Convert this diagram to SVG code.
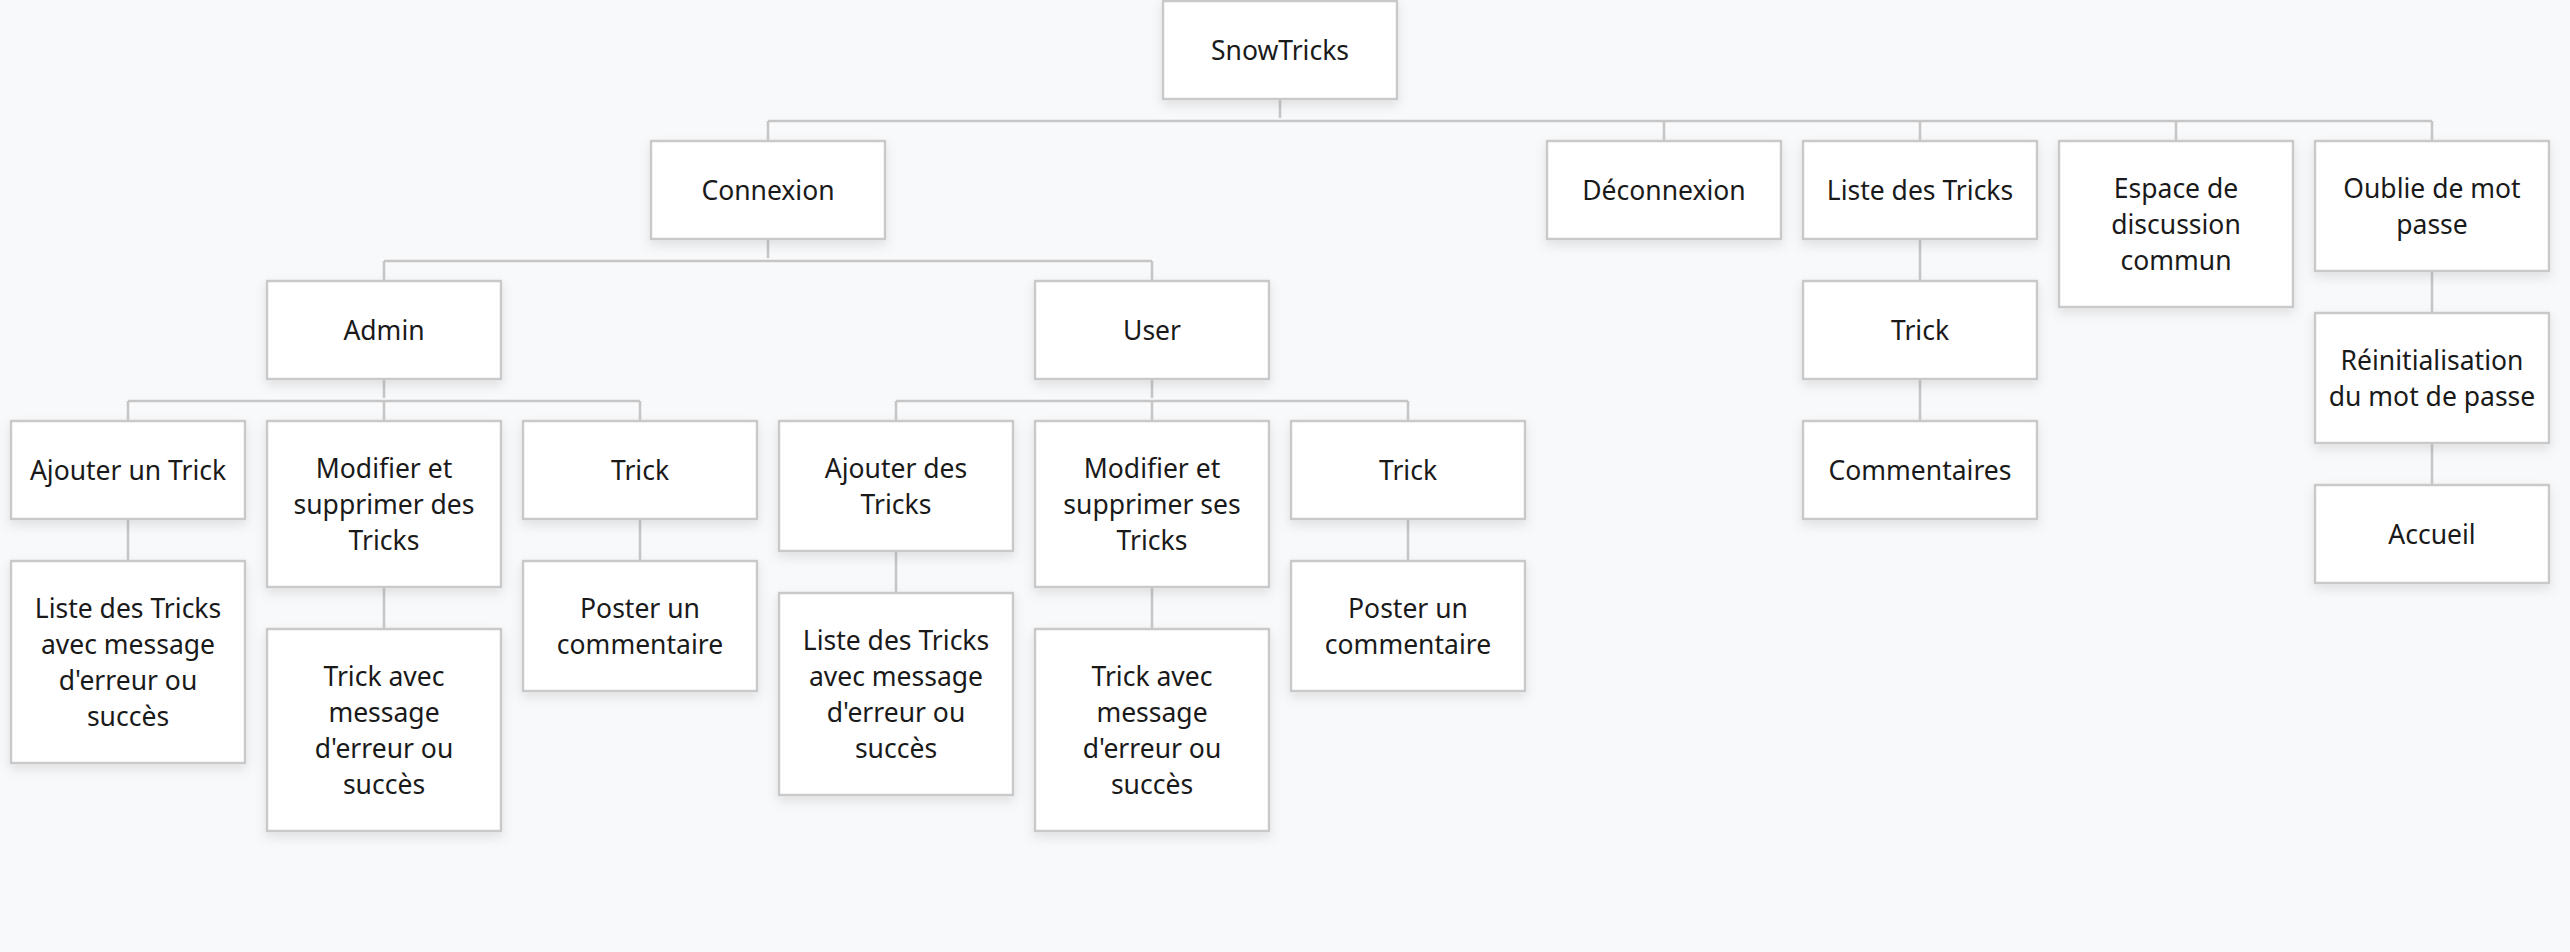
<svg xmlns="http://www.w3.org/2000/svg" width="2570" height="952" viewBox="0 0 2570 952">
<style>
.bg{fill:#f8f9fa}
.box{fill:#ffffff;stroke:#c9c9c9;stroke-width:2.5;filter:url(#sh)}
.lbl{font-family:"Noto Sans","Open Sans","Liberation Sans",sans-serif;font-size:26.5px;fill:#1a1a1a;text-anchor:middle}
.edges path{fill:none;stroke:#c6c6c6;stroke-width:2.5}
</style>
<defs>
<filter id="sh" x="-20%" y="-20%" width="140%" height="150%">
<feDropShadow dx="0" dy="5" stdDeviation="6" flood-color="#000" flood-opacity="0.10"/>
</filter>
</defs>
<rect class="bg" x="0" y="0" width="2570" height="952"/>
<g class="edges" id="connectors">
<path d="M1280 99V118M768 121H2432M768 121V141M1664 121V141M1920 121V141M2176 121V141M2432 121V141"/>
<path d="M768 239V258M384 261H1152M384 261V281M1152 261V281"/>
<path d="M384 379V398M128 401H640M128 401V421M384 401V421M640 401V421"/>
<path d="M1152 379V398M896 401H1408M896 401V421M1152 401V421M1408 401V421"/>
<path d="M128 519V561M384 587V629M640 519V561M896 551V593M1152 587V629M1408 519V561"/>
<path d="M1920 239V281M1920 379V421M2432 271V313M2432 443V485"/>
</g>
<g id="n-snowtricks"><rect class="box" x="1163" y="1" width="234" height="98"/><text class="lbl" x="1280" y="60">SnowTricks</text></g>
<g id="n-connexion"><rect class="box" x="651" y="141" width="234" height="98"/><text class="lbl" x="768" y="200">Connexion</text></g>
<g id="n-deconnexion"><rect class="box" x="1547" y="141" width="234" height="98"/><text class="lbl" x="1664" y="200">Déconnexion</text></g>
<g id="n-liste"><rect class="box" x="1803" y="141" width="234" height="98"/><text class="lbl" x="1920" y="200">Liste des Tricks</text></g>
<g id="n-espace"><rect class="box" x="2059" y="141" width="234" height="166"/><text class="lbl" x="2176" y="198">Espace de<tspan x="2176" dy="36">discussion</tspan><tspan x="2176" dy="36">commun</tspan></text></g>
<g id="n-oublie"><rect class="box" x="2315" y="141" width="234" height="130"/><text class="lbl" x="2432" y="198">Oublie de mot<tspan x="2432" dy="36">passe</tspan></text></g>
<g id="n-admin"><rect class="box" x="267" y="281" width="234" height="98"/><text class="lbl" x="384" y="340">Admin</text></g>
<g id="n-user"><rect class="box" x="1035" y="281" width="234" height="98"/><text class="lbl" x="1152" y="340">User</text></g>
<g id="n-trick-liste"><rect class="box" x="1803" y="281" width="234" height="98"/><text class="lbl" x="1920" y="340">Trick</text></g>
<g id="n-reinit"><rect class="box" x="2315" y="313" width="234" height="130"/><text class="lbl" x="2432" y="370">Réinitialisation<tspan x="2432" dy="36">du mot de passe</tspan></text></g>
<g id="n-ajouter-admin"><rect class="box" x="11" y="421" width="234" height="98"/><text class="lbl" x="128" y="480">Ajouter un Trick</text></g>
<g id="n-modifier-admin"><rect class="box" x="267" y="421" width="234" height="166"/><text class="lbl" x="384" y="478">Modifier et<tspan x="384" dy="36">supprimer des</tspan><tspan x="384" dy="36">Tricks</tspan></text></g>
<g id="n-trick-admin"><rect class="box" x="523" y="421" width="234" height="98"/><text class="lbl" x="640" y="480">Trick</text></g>
<g id="n-ajouter-user"><rect class="box" x="779" y="421" width="234" height="130"/><text class="lbl" x="896" y="478">Ajouter des<tspan x="896" dy="36">Tricks</tspan></text></g>
<g id="n-modifier-user"><rect class="box" x="1035" y="421" width="234" height="166"/><text class="lbl" x="1152" y="478">Modifier et<tspan x="1152" dy="36">supprimer ses</tspan><tspan x="1152" dy="36">Tricks</tspan></text></g>
<g id="n-trick-user"><rect class="box" x="1291" y="421" width="234" height="98"/><text class="lbl" x="1408" y="480">Trick</text></g>
<g id="n-commentaires"><rect class="box" x="1803" y="421" width="234" height="98"/><text class="lbl" x="1920" y="480">Commentaires</text></g>
<g id="n-accueil"><rect class="box" x="2315" y="485" width="234" height="98"/><text class="lbl" x="2432" y="544">Accueil</text></g>
<g id="n-liste-admin"><rect class="box" x="11" y="561" width="234" height="202"/><text class="lbl" x="128" y="618">Liste des Tricks<tspan x="128" dy="36">avec message</tspan><tspan x="128" dy="36">d'erreur ou</tspan><tspan x="128" dy="36">succès</tspan></text></g>
<g id="n-trickmsg-admin"><rect class="box" x="267" y="629" width="234" height="202"/><text class="lbl" x="384" y="686">Trick avec<tspan x="384" dy="36">message</tspan><tspan x="384" dy="36">d'erreur ou</tspan><tspan x="384" dy="36">succès</tspan></text></g>
<g id="n-poster-admin"><rect class="box" x="523" y="561" width="234" height="130"/><text class="lbl" x="640" y="618">Poster un<tspan x="640" dy="36">commentaire</tspan></text></g>
<g id="n-liste-user"><rect class="box" x="779" y="593" width="234" height="202"/><text class="lbl" x="896" y="650">Liste des Tricks<tspan x="896" dy="36">avec message</tspan><tspan x="896" dy="36">d'erreur ou</tspan><tspan x="896" dy="36">succès</tspan></text></g>
<g id="n-trickmsg-user"><rect class="box" x="1035" y="629" width="234" height="202"/><text class="lbl" x="1152" y="686">Trick avec<tspan x="1152" dy="36">message</tspan><tspan x="1152" dy="36">d'erreur ou</tspan><tspan x="1152" dy="36">succès</tspan></text></g>
<g id="n-poster-user"><rect class="box" x="1291" y="561" width="234" height="130"/><text class="lbl" x="1408" y="618">Poster un<tspan x="1408" dy="36">commentaire</tspan></text></g>
</svg>
